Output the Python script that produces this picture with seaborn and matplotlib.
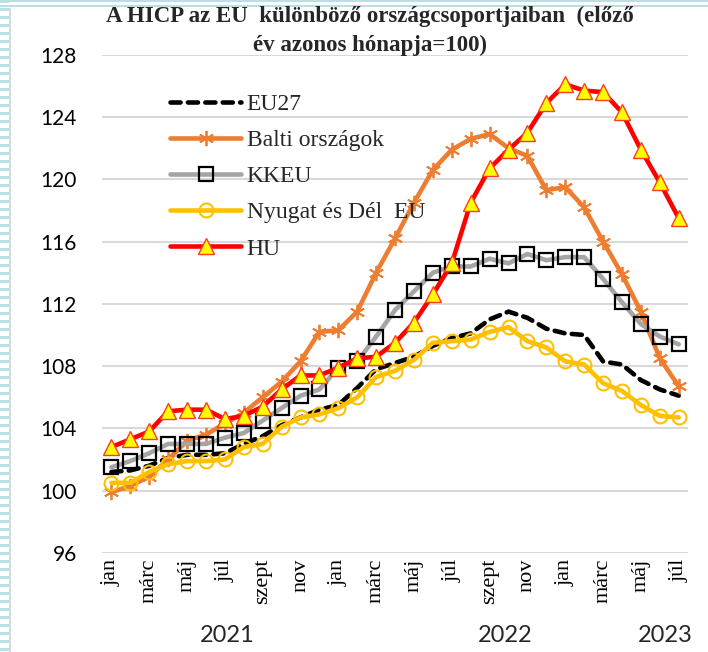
import matplotlib
matplotlib.use("Agg")
import matplotlib.pyplot as plt
import matplotlib.transforms as mtransforms
from matplotlib.patches import Rectangle
import numpy as np
import seaborn as sns

# months jan 2021 .. jul 2023
months = ["jan", "febr", "márc", "ápr", "máj", "jún", "júl", "aug", "szept", "okt", "nov", "dec"] * 2 + \
         ["jan", "febr", "márc", "ápr", "máj", "jún", "júl"]

eu27 = [101.2, 101.3, 101.6, 102.1, 102.3, 102.3, 102.4, 103.0, 103.5, 104.2, 104.7, 105.2,
        105.5, 106.6, 107.8, 108.2, 108.6, 109.3, 109.8, 110.1, 111.0, 111.5, 111.1, 110.4,
        110.1, 110.0, 108.3, 108.1, 107.1, 106.5, 106.1]
balti = [99.9, 100.3, 100.9, 102.0, 103.2, 103.6, 104.3, 105.0, 106.0, 107.0, 108.3, 110.2,
         110.3, 111.5, 114.0, 116.2, 118.5, 120.6, 121.9, 122.6, 122.9, 122.0, 121.5, 119.3,
         119.5, 118.2, 116.0, 113.9, 111.5, 108.5, 106.7]
kkeu = [101.5, 101.9, 102.4, 103.0, 103.0, 103.0, 103.4, 103.7, 104.5, 105.3, 106.1, 106.5,
        107.9, 108.3, 109.9, 111.6, 112.8, 114.0, 114.4, 114.4, 114.9, 114.6, 115.2, 114.8,
        115.0, 115.0, 113.6, 112.1, 110.7, 109.9, 109.4]
nyugat = [100.5, 100.5, 101.2, 101.7, 101.9, 101.9, 102.0, 102.8, 103.0, 104.1, 104.7, 104.9,
          105.3, 106.0, 107.3, 107.7, 108.4, 109.5, 109.6, 109.7, 110.2, 110.5, 109.6, 109.2,
          108.3, 108.1, 106.9, 106.4, 105.5, 104.8, 104.7]
hu = [102.8, 103.3, 103.8, 105.1, 105.2, 105.2, 104.6, 104.8, 105.4, 106.5, 107.4, 107.4,
      107.9, 108.5, 108.6, 109.5, 110.8, 112.6, 114.6, 118.5, 120.7, 121.9, 123.0, 124.9,
      126.1, 125.7, 125.6, 124.3, 121.9, 119.8, 117.5]

years = ["2021", "2022", "2023"]
year_pos = [6.1, 20.8, 29.3]
yticks = [96, 100, 104, 108, 112, 116, 120, 124, 128]

sns.set_theme(style="white")
W, H = 708, 652
fig = plt.figure(figsize=(W / 100, H / 100), dpi=100)
ax = fig.add_axes([0.144, 0.152, 0.828, 0.764])

x = np.arange(len(months))
lw = 3.3
sns.lineplot(x=x, y=eu27, ax=ax, color="black", lw=lw, linestyle=(0, (2.2, 1.6)),
             dash_capstyle="round", label="EU27")
sns.lineplot(x=x, y=balti, ax=ax, color="#ED7D31", lw=lw, marker=(6, 2, 0), markersize=11,
             markeredgecolor="#ED7D31", markeredgewidth=1.3, label="Balti országok")
sns.lineplot(x=x, y=kkeu, ax=ax, color="#A5A5A5", lw=lw, marker="s", markersize=10.5,
             markerfacecolor="none", markeredgecolor="black", markeredgewidth=1.6, label="KKEU")
sns.lineplot(x=x, y=nyugat, ax=ax, color="#FFC000", lw=lw, marker="o", markersize=10,
             markerfacecolor="none", markeredgecolor="#FFC000", markeredgewidth=1.5,
             label="Nyugat és Dél  EU")
sns.lineplot(x=x, y=hu, ax=ax, color="#FF0000", lw=lw, marker="^", markersize=11,
             markerfacecolor="#FFFF00", markeredgecolor="#FF3B1F", markeredgewidth=1.0, label="HU")

ax.set_xlim(-0.5, len(months) - 0.5)
ax.set_ylim(96, 128)
ax.set_yticks(yticks)
ax.set_yticklabels([str(v) for v in yticks], fontfamily="Lato", fontsize=15)
ax.set_xticks(x[::2])
ax.set_xticklabels(months[::2], rotation=90, fontfamily="Liberation Serif", fontsize=16)
ax.tick_params(axis="both", length=0, colors="black")
ax.tick_params(axis="y", pad=18)
ax.tick_params(axis="x", pad=4)
ax.grid(axis="y", color="#D9D9D9", lw=1.5)
ax.grid(axis="x", visible=False)
for s in ax.spines.values():
    s.set_visible(False)
ax.set_xlabel("")
ax.set_ylabel("")

trans = mtransforms.blended_transform_factory(ax.transData, fig.transFigure)
for yr, pos in zip(years, year_pos):
    fig.text(pos, 1 - 636 / H, yr, transform=trans, ha="center", va="center",
             fontfamily="Lato", fontsize=17)

leg = ax.legend(loc="upper left", bbox_to_anchor=(0.08, 0.965), frameon=False,
                prop={"family": "Liberation Serif", "size": 17}, handlelength=3.0,
                labelspacing=0.62, handletextpad=0.25)

fig.text(370 / W, 1 - 16 / H, "A HICP az EU  különböző országcsoportjaiban  (előző",
         ha="center", va="center", fontfamily="Liberation Serif", fontweight="bold", fontsize=16.5)
fig.text(370 / W, 1 - 45 / H, "év azonos hónapja=100)",
         ha="center", va="center", fontfamily="Liberation Serif", fontweight="bold", fontsize=16.5)

# slide frame: striped left edge, thin lines on top, grey border
stripe = "#B9E0E4"
for yy in range(0, H, 8):
    fig.patches.append(Rectangle((0, 1 - (yy + 3) / H), 9 / W, 3 / H, transform=fig.transFigure,
                                 facecolor=stripe, edgecolor="none", zorder=-1))
for yy in (0, 5):
    fig.patches.append(Rectangle((0, 1 - (yy + 2) / H), 1, 2 / H, transform=fig.transFigure,
                                 facecolor=stripe, edgecolor="none", zorder=-1))
fig.patches.append(Rectangle((9 / W, 0), 2 / W, 1 - 8 / H, transform=fig.transFigure,
                             facecolor="#D9D9D9", edgecolor="none", zorder=-1))

fig.savefig("out.png", dpi=100)
